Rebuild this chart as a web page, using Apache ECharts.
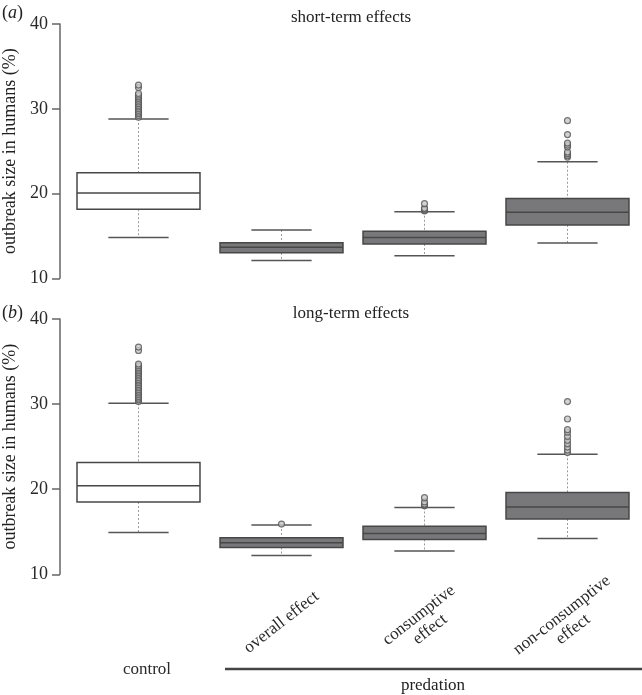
<!DOCTYPE html>
<html>
<head>
<meta charset="utf-8">
<script src="https://cdn.jsdelivr.net/npm/echarts@6/dist/echarts.min.js"></script>
<style>html,body{margin:0;padding:0;background:#fff}#c{width:642px;height:695px}</style>
</head>
<body>
<div id="c"></div>
<script>
// ---- data ----
const categories = ['control', 'overall effect', 'consumptive\neffect', 'non-consumptive\neffect'];
const yTicks = [10, 20, 30, 40];
// [low whisker, Q1, median, Q3, high whisker]
const shortTermStats = [
  [14.8, 18.15, 20.05, 22.45, 28.8],
  [12.1, 13.0, 13.65, 14.2, 15.7],
  [12.65, 14.05, 14.8, 15.55, 17.85],
  [14.15, 16.3, 17.8, 19.4, 23.75]
];
const longTermStats = [
  [14.9, 18.5, 20.4, 23.15, 30.1],
  [12.2, 13.15, 13.7, 14.3, 15.8],
  [12.75, 14.1, 14.8, 15.65, 17.85],
  [14.2, 16.5, 17.9, 19.6, 24.1]
];
const shortControlOutliers = [29.0, 29.2, 29.4, 29.6, 29.8, 30.0, 30.2, 30.4, 30.6, 30.8, 31.0, 31.2, 31.4, 31.6, 31.8, 32.5, 32.8];
const shortOverallOutliers = [];
const shortConsOutliers = [17.95, 18.05, 18.15, 18.25, 18.8];
const shortNonConsOutliers = [24.3, 24.5, 24.7, 24.9, 25.5, 25.7, 25.95, 26.95, 28.6];
const longControlOutliers = [30.3, 30.5, 30.7, 30.9, 31.1, 31.3, 31.5, 31.7, 31.9, 32.1, 32.3, 32.5, 32.7, 32.9, 33.1, 33.3, 33.5, 33.7, 33.9, 34.1, 34.3, 34.5, 34.7, 36.3, 36.7];
const longOverallOutliers = [15.9];
const longConsOutliers = [18.05, 18.15, 18.25, 18.5, 19.0];
const longNonConsOutliers = [24.3, 24.6, 24.95, 25.35, 25.75, 26.2, 26.7, 27.0, 28.25, 30.3];

const shortOutliers = [shortControlOutliers, shortOverallOutliers, shortConsOutliers, shortNonConsOutliers];
const longOutliers = [longControlOutliers, longOverallOutliers, longConsOutliers, longNonConsOutliers];

// ---- rendering ----
const serif = 'Liberation Serif, Times New Roman, serif';
const chart = echarts.init(document.getElementById('c'), null, {renderer: 'canvas'});

function renderBox(params, api) {
  const idx = api.value(0);
  const lo = api.coord([idx, api.value(1)]);
  const q1 = api.coord([idx, api.value(2)]);
  const med = api.coord([idx, api.value(3)]);
  const q3 = api.coord([idx, api.value(4)]);
  const hi = api.coord([idx, api.value(5)]);
  const band = api.size([1, 0])[0];
  const bw = band * 0.86;
  const cw = bw * 0.49;
  const x = lo[0];
  const fill = idx === 0 ? '#ffffff' : '#78787b';
  const dash = {stroke: '#9a9a9a', lineWidth: 1, lineDash: [2, 2]};
  const cap = {stroke: '#555', lineWidth: 1.5};
  return {
    type: 'group',
    children: [
      {type: 'line', shape: {x1: x, y1: hi[1], x2: x, y2: q3[1]}, style: dash},
      {type: 'line', shape: {x1: x, y1: q1[1], x2: x, y2: lo[1]}, style: dash},
      {type: 'line', shape: {x1: x - cw / 2, y1: hi[1], x2: x + cw / 2, y2: hi[1]}, style: cap},
      {type: 'line', shape: {x1: x - cw / 2, y1: lo[1], x2: x + cw / 2, y2: lo[1]}, style: cap},
      {type: 'rect', shape: {x: x - bw / 2, y: q3[1], width: bw, height: q1[1] - q3[1]},
        style: {fill: fill, stroke: '#474747', lineWidth: 1.5}},
      {type: 'line', shape: {x1: x - bw / 2, y1: med[1], x2: x + bw / 2, y2: med[1]},
        style: {stroke: '#474747', lineWidth: 1.5}}
    ]
  };
}

function boxData(stats) {
  return stats.map((s, i) => [i].concat(s));
}
function outlierData(list) {
  const out = [];
  list.forEach((arr, i) => arr.forEach(v => out.push([i, v])));
  return out;
}

function yAxisCfg(gridIndex) {
  return {
    type: 'value', gridIndex: gridIndex, min: 10, max: 40, interval: 10, offset: 7,
    name: 'outbreak size in humans (%)', nameLocation: 'middle', nameGap: 39,
    nameTextStyle: {fontFamily: serif, fontSize: 18, color: '#222'},
    axisLine: {show: true, lineStyle: {color: '#666', width: 1.5}},
    axisTick: {show: true, length: 8, lineStyle: {color: '#666', width: 1.5}},
    axisLabel: {fontFamily: serif, fontSize: 18, color: '#2a2a2a', margin: 12,
      formatter: v => (yTicks.indexOf(v) >= 0 ? String(v) : '')},
    splitLine: {show: false}
  };
}

const option = {
  animation: false,
  backgroundColor: '#ffffff',
  grid: [
    {left: 67, right: 3, top: 24, height: 254.3, containLabel: false, outerBoundsMode: 'none'},
    {left: 67, right: 3, top: 319, height: 255.3, containLabel: false, outerBoundsMode: 'none'}
  ],
  xAxis: [
    {type: 'category', gridIndex: 0, data: categories, boundaryGap: true,
      axisLine: {show: false}, axisTick: {show: false}, axisLabel: {show: false}},
    {type: 'category', gridIndex: 1, data: categories, boundaryGap: true,
      axisLine: {show: false}, axisTick: {show: false},
      axisLabel: {show: true, interval: 0, rotate: 38, align: 'center', verticalAlign: 'middle',
        margin: 48, fontFamily: serif, fontSize: 17, color: '#2a2a2a', lineHeight: 18,
        formatter: (v, i) => (i === 0 ? '' : v)}},
    {type: 'category', gridIndex: 1, data: categories, boundaryGap: true, position: 'bottom',
      axisLine: {show: false}, axisTick: {show: false},
      axisLabel: {show: true, interval: 0, rotate: 0, align: 'center', verticalAlign: 'middle',
        margin: 95, padding: [0, 0, 0, 17], fontFamily: serif, fontSize: 17, color: '#2a2a2a',
        formatter: (v, i) => (i === 0 ? v : '')}}
  ],
  yAxis: [yAxisCfg(0), yAxisCfg(1)],
  series: [
    {type: 'custom', xAxisIndex: 0, yAxisIndex: 0, renderItem: renderBox, data: boxData(shortTermStats), z: 2},
    {type: 'custom', xAxisIndex: 1, yAxisIndex: 1, renderItem: renderBox, data: boxData(longTermStats), z: 2},
    {type: 'scatter', xAxisIndex: 0, yAxisIndex: 0, data: outlierData(shortOutliers), symbol: 'circle', symbolSize: 6,
      itemStyle: {color: '#c8c8c8', borderColor: '#555', borderWidth: 1.2}, z: 3},
    {type: 'scatter', xAxisIndex: 1, yAxisIndex: 1, data: outlierData(longOutliers), symbol: 'circle', symbolSize: 6,
      itemStyle: {color: '#c8c8c8', borderColor: '#555', borderWidth: 1.2}, z: 3}
  ],
  graphic: [
    {type: 'text', left: 2, top: 4, style: {text: '({i|a})', fontFamily: serif, fontSize: 18, fill: '#222',
      rich: {i: {fontFamily: serif, fontSize: 18, fontStyle: 'italic', fill: '#222'}}}},
    {type: 'text', left: 2, top: 304, style: {text: '({i|b})', fontFamily: serif, fontSize: 18, fill: '#222',
      rich: {i: {fontFamily: serif, fontSize: 18, fontStyle: 'italic', fill: '#222'}}}},
    {type: 'text', x: 351, y: 18, style: {text: 'short-term effects', fontFamily: serif, fontSize: 17, fill: '#222',
      align: 'center', verticalAlign: 'middle'}},
    {type: 'text', x: 351, y: 314, style: {text: 'long-term effects', fontFamily: serif, fontSize: 17, fill: '#222',
      align: 'center', verticalAlign: 'middle'}},
    {type: 'line', shape: {x1: 225, y1: 669, x2: 642, y2: 669}, style: {stroke: '#444', lineWidth: 2.5}},
    {type: 'text', x: 433, y: 686, style: {text: 'predation', fontFamily: serif, fontSize: 17, fill: '#222',
      align: 'center', verticalAlign: 'middle'}}
  ]
};
chart.setOption(option);
</script>
</body>
</html>
